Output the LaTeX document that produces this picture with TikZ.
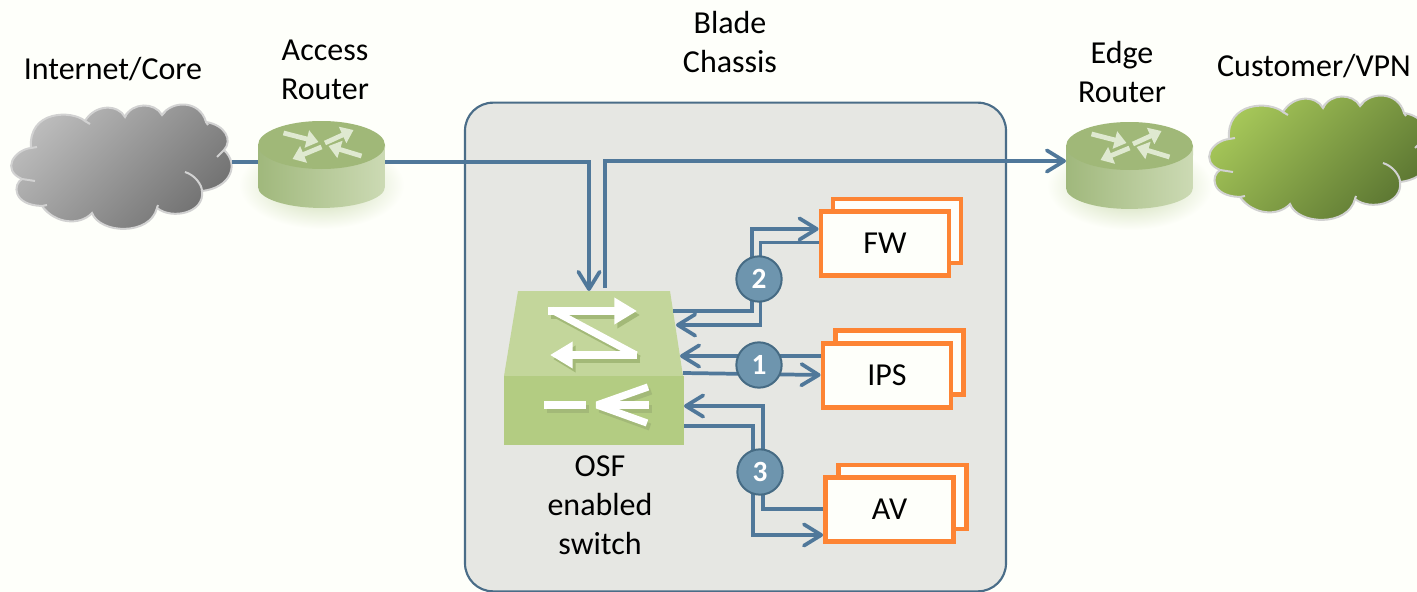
\documentclass[tikz,border=0pt]{standalone}
\usepackage{fontspec}
\setmainfont{Carlito}
\usetikzlibrary{arrows.meta,calc}
\definecolor{pagebg}{HTML}{FEFFFA}
\definecolor{chassisfill}{HTML}{E6E7E3}
\definecolor{chassisline}{HTML}{4A6D88}
\definecolor{flowblue}{HTML}{50789A}
\definecolor{badgefill}{HTML}{6E95AE}
\definecolor{badgeline}{HTML}{466B84}
\definecolor{svcorange}{HTML}{FD8434}
\definecolor{switchtop}{HTML}{C3D69B}
\definecolor{switchfront}{HTML}{B3CC82}
\definecolor{switchshade}{HTML}{A3B978}
\definecolor{routertop}{HTML}{A0B878}
\definecolor{routerleft}{HTML}{A0B87C}
\definecolor{routerright}{HTML}{CCDAB4}
\definecolor{routerarrow}{HTML}{DFE9D0}
\definecolor{routershadow}{HTML}{C4D5A6}
\definecolor{cloudline}{HTML}{D2D2D2}
\definecolor{greycloudhi}{HTML}{BEBEBE}
\definecolor{greycloudlo}{HTML}{6E6E6E}
\definecolor{greencloudhi}{HTML}{A8C95A}
\definecolor{greencloudlo}{HTML}{587230}
\tikzset{
	lbl/.style={align=center, inner sep=0, font=\fontsize{24}{29.25}\selectfont},
	hidden/.style={inner sep=0, outer sep=0},
	svcbox/.style={draw=svcorange, fill=pagebg, line width=3.6pt, minimum width=96pt, minimum height=48pt, inner sep=0, font=\fontsize{24}{28}\selectfont},
	badge/.style={circle, draw=badgeline, fill=badgefill, line width=1.5pt, minimum size=34pt, inner sep=0, text=white, font=\fontsize{22}{24}\selectfont\bfseries},
	flow/.style={draw=flowblue, line width=2.8pt, >={Straight Barb[length=13pt,width=16pt,round]}},
	whitearrow/.style={line width=5.4pt, -{Triangle[length=17pt,width=19pt]}},
	routerglyph/.style={draw=routerarrow, fill=routerarrow, line width=3.6pt, -{Triangle[length=9pt,width=13pt]}}
}
% #1,#2 shift, #3,#4 shading colours
\newcommand{\drawCloud}[4]{
	\begin{scope}[shift={(#1,#2)}]
		\shade [top color=#3, bottom color=#4, shading angle=45] (31,148) .. controls (14,150) and (1,170) .. (22,179) .. controls (13,184) and (12,205) .. (42,206) .. controls (55,224) and (80,226) .. (92,213) .. controls (100,234) and (150,236) .. (157,208) .. controls (172,220) and (205,213) .. (202,191) .. controls (230,188) and (240,165) .. (224,150) .. controls (233,140) and (225,125) .. (206,122) .. controls (200,100) and (172,100) .. (162,115) .. controls (155,102) and (132,102) .. (125,117) .. controls (118,104) and (95,104) .. (85,121) .. controls (72,110) and (28,110) .. (31,148) -- cycle;
		\draw [cloudline, line width=1.5pt] (31,148) .. controls (14,150) and (1,170) .. (22,179) .. controls (13,184) and (12,205) .. (42,206) .. controls (55,224) and (80,226) .. (92,213) .. controls (100,234) and (150,236) .. (157,208) .. controls (172,220) and (205,213) .. (202,191) .. controls (230,188) and (240,165) .. (224,150) .. controls (233,140) and (225,125) .. (206,122) .. controls (200,100) and (172,100) .. (162,115) .. controls (155,102) and (132,102) .. (125,117) .. controls (118,104) and (95,104) .. (85,121) .. controls (72,110) and (28,110) .. (31,148) -- cycle;
		\draw [cloudline, line width=1.5pt] (22,179) -- (35,181);
		\draw [cloudline, line width=1.5pt] (42,206) -- (47,205);
		\draw [cloudline, line width=1.5pt] (157,208) -- (158,205);
		\draw [cloudline, line width=1.5pt] (185,172) .. controls (195,175) and (202,185) .. (202,191);
		\draw [cloudline, line width=1.5pt] (224,150) -- (217,157);
		\draw [cloudline, line width=1.5pt] (206,122) -- (208,125);
		\draw [cloudline, line width=1.5pt] (162,115) -- (165,112);
		\draw [cloudline, line width=1.5pt] (125,117) -- (127,113);
		\draw [cloudline, line width=1.5pt] (85,121) -- (90,124);
		\draw [cloudline, line width=1.5pt] (31,148) -- (37,147);
	\end{scope}
}
% #1,#2 centre of the top face
\newcommand{\drawRouter}[2]{
	\begin{scope}[shift={(#1,#2)}]
		\shade [inner color=routershadow, outer color=pagebg] (0,40) ellipse [x radius=62pt, y radius=33pt];
		\shade [left color=routerleft, right color=routerright] (-63.5,0) -- (-63.5,42) arc [start angle=180, end angle=360, x radius=47.6pt, y radius=15.7pt] -- (63.5,0) -- cycle;
		\fill [routertop] (0,0) ellipse [x radius=47.6pt, y radius=18pt];
		\draw [routerglyph] (-38,-12) -- (-3,-3);
		\draw [routerglyph] (3.5,-2) -- (32,-15);
		\draw [routerglyph] (0,2) -- (-29,14);
		\draw [routerglyph] (40,11) -- (7,1);
	\end{scope}
}

\begin{document}
\begin{tikzpicture}[x=0.75pt, y=-0.75pt]
	\useasboundingbox (0,0) rectangle (1417,592);
	\fill [pagebg] (0,0) rectangle (1417,592);

	\node [draw=chassisline, fill=chassisfill, line width=1.6pt, rounded corners=21pt, minimum width=405.75pt, minimum height=366.5pt, inner sep=0] (chassis) at (735.5,347) {};

	\drawCloud{0}{0}{greycloudhi}{greycloudlo}
	\drawCloud{1198}{-9}{greencloudhi}{greencloudlo}
	\drawRouter{321.5}{145}
	\drawRouter{1129.5}{146}

	\node [hidden, minimum width=165.75pt] (internet) at (121.5,162) {};
	\node [hidden, minimum width=95.25pt] (access) at (321.5,162) {};
	\node [hidden, minimum width=95.25pt] (edge) at (1129.5,161) {};
	\node [hidden, minimum width=135pt, minimum height=115.5pt] (switch) at (594,368) {};

	% the switch
	\fill [switchtop] (518,291) -- (670,291) -- (683,376) -- (504,376) -- cycle;
	\fill [switchfront] (504,376) rectangle (684,445);
	\foreach \col/\dx/\dy in {switchshade/3/4, white/0/0} {
		\begin{scope}[shift={(\dx,\dy)}]
			\draw [whitearrow, draw=\col, fill=\col] (548,311) -- (637,311);
			\draw [draw=\col, line width=5.4pt] (552,310) -- (636,355);
			\draw [whitearrow, draw=\col, fill=\col] (637,355) -- (550,355);
			\draw [draw=\col, line width=5.4pt] (544,405) -- (586,405);
			\draw [draw=\col, line width=5.4pt, line join=bevel] (648,387) -- (597,405) -- (647,423);
			\draw [draw=\col, line width=5.4pt] (597,405) -- (649,405);
		\end{scope}
	}

	\node [svcbox] (fwback) at (897,231) {};
	\node [svcbox] (fw) at (885,243.5) {FW};
	\node [svcbox] (ipsback) at (899.5,362.5) {};
	\node [svcbox] (ips) at (887,375.5) {IPS};
	\node [svcbox] (avback) at (902.5,497) {};
	\node [svcbox] (av) at (889.5,509.5) {AV};

	\coordinate (swin) at (589,291);
	\coordinate (swout) at (605,288);
	\coordinate (swfwa) at (673,311);
	\coordinate (swfwb) at (676,325);
	\coordinate (swipsa) at (680,356);
	\coordinate (swipsb) at (683,373);
	\coordinate (swava) at (684,406);
	\coordinate (swavb) at (684,426);

	\draw [flow] (internet.east) -- (access.west);
	\draw [flow, ->] (access.east) -| (swin);
	\draw [flow, ->] (swout) |- (edge.west);

	\draw [flow, ->] (swfwa) -- ++(79,0) |- ($(fw.west)+(0,-14.5)$);
	\draw [flow, ->] ($(fw.west)+(0,-1)$) -- ++(-58,0) |- (swfwb);
	\draw [flow, ->] ($(ips.west)+(0,-19.5)$) -- (swipsa);
	\draw [flow, ->] (swipsb) -- ($(ips.west)+(0,-0.5)$);
	\draw [flow, ->] ($(av.west)+(0,-0.5)$) -- ++(-60,0) |- (swava);
	\draw [flow, ->] (swavb) -- ++(69,0) |- ($(av.west)+(0,25.5)$);

	\node [badge] (badgetwo) at (759,279) {2};
	\node [badge] (badgeone) at (759,365) {1};
	\node [badge] (badgethree) at (760,472) {3};

	\node [lbl] (internetlabel) at (113,69) {Internet/Core};
	\node [lbl] (accesslabel) at (325,70) {Access\\Router};
	\node [lbl] (chassislabel) at (730,42) {Blade\\Chassis};
	\node [lbl] (edgelabel) at (1122,72) {Edge\\Router};
	\node [lbl] (customerlabel) at (1314,66) {Customer/VPN};
	\node [lbl] (switchlabel) at (600,505) {OSF\\enabled\\switch};
\end{tikzpicture}
\end{document}
